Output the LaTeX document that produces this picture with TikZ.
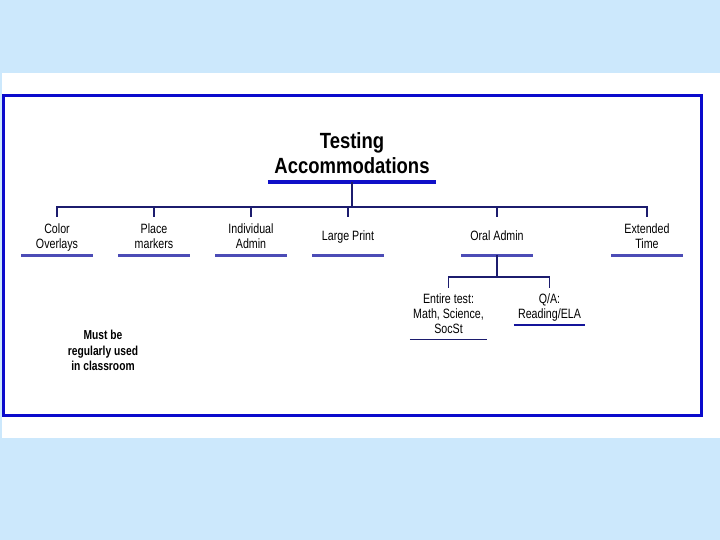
\documentclass[tikz,border=0pt]{standalone}
\usepackage{fontspec}
\setmainfont{Liberation Sans}
\newfontfamily\narrowsans[FakeStretch=0.79]{Liberation Sans}
\newfontfamily\titlesans[FakeStretch=0.84]{Liberation Sans}
\usetikzlibrary{positioning}
\definecolor{skyback}{HTML}{CCE8FC}
\definecolor{frameblue}{HTML}{0A0ACC}
\definecolor{treenavy}{HTML}{1C1C6E}
\definecolor{barblue}{HTML}{4C4CB6}
\definecolor{titleblue}{HTML}{1010C8}

\begin{document}
\begin{tikzpicture}[x=1pt, y=-1pt,
        item/.style={font=\narrowsans\fontsize{13.5}{15}\selectfont, align=center, inner sep=0pt, text depth=0pt, minimum width=71pt, minimum height=38pt},
        link/.style={draw=treenavy, line width=1.8pt},
        ubar/.style={draw=barblue, line width=3pt}]
        \useasboundingbox (0,0) rectangle (720,540);
        \fill[skyback] (0,0) rectangle (720,540);
        \fill[white] (1.5,73) rectangle (720,438);
        \draw[frameblue, line width=3pt] (3.5,95.5) rectangle (701.5,415);
        \node[font=\titlesans\bfseries\fontsize{22}{25.3}\selectfont, align=center, inner sep=0pt, text depth=0pt, minimum width=168pt, minimum height=58pt] (title) at (352,153) {Testing\\Accommodations};
        \node[item] (color) at (57,236) {Color\\Overlays};
        \node[item] (place) at (154,236) {Place\\markers};
        \node[item] (indiv) at (251,236) {Individual\\Admin};
        \node[item] (large) at (348,236) {Large Print};
        \node[item] (oral) at (497,236) {Oral Admin};
        \node[item] (extended) at (647,236) {Extended\\Time};
        \node[item, minimum width=77pt, minimum height=51pt] (entire) at (448.5,313.5) {Entire test:\\Math, Science,\\SocSt};
        \node[item, minimum height=37pt] (qa) at (549.5,306.5) {Q/A:\\Reading/ELA};
        \node[font=\narrowsans\bfseries\fontsize{13}{15.5}\selectfont, align=center] (note) at (103,350.5) {Must be\\regularly used\\in classroom};
        \coordinate (bus) at (352,207);
        \coordinate (split) at (497,277);
        \draw[titleblue, line width=4pt] (title.south west) -- (title.south east);
        \draw[link] (title.south) -- (bus);
        \foreach \n in {color,place,indiv,large,oral,extended} {
            \draw[link] (bus) -| (\n.north);
            \draw[ubar] (\n.south west) -- (\n.south east);
        }
        \draw[link] (oral.south) -- (split);
        \foreach \n in {entire,qa}
            \draw[link] (split) -| (\n.north);
        \draw[treenavy, line width=1.2pt] (entire.south west) -- (entire.south east);
        \draw[treenavy!70!blue, line width=2.5pt] (qa.south west) -- (qa.south east);
    \end{tikzpicture}
\end{document}
